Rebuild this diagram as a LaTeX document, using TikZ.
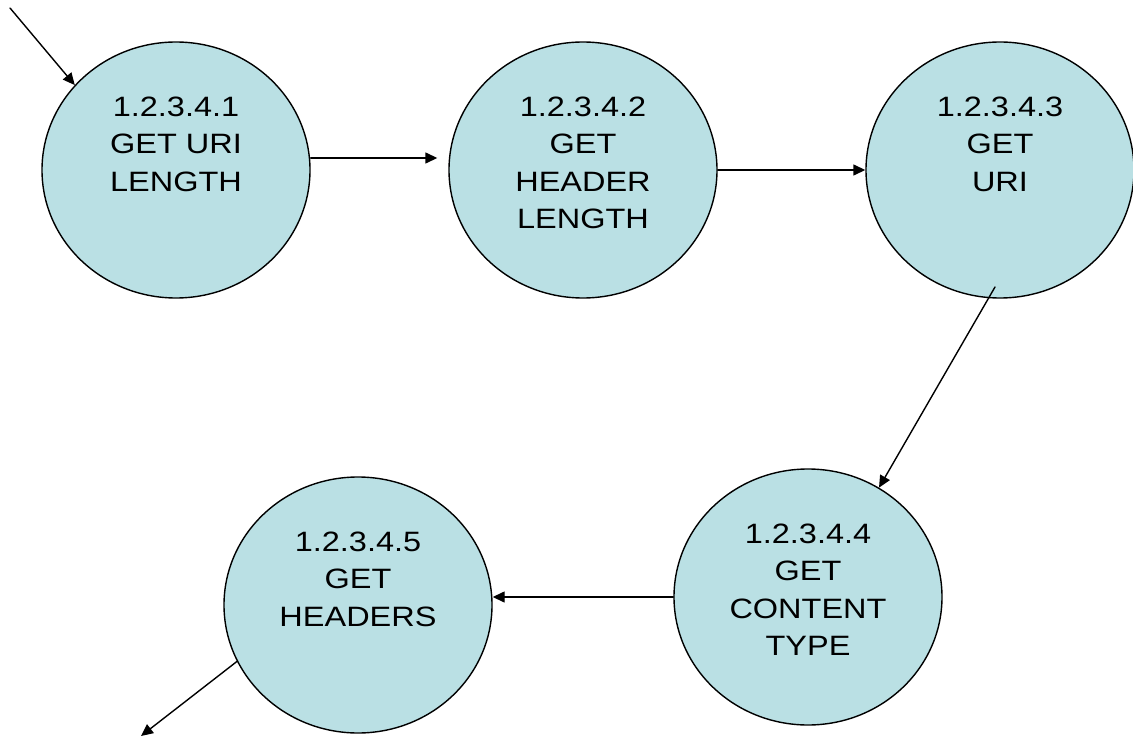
\documentclass[tikz,border=0pt]{standalone}
\usepackage{fontspec}
\setmainfont[FakeStretch=1.16]{Liberation Sans}
\usetikzlibrary{shapes.geometric,arrows.meta}
\definecolor{bubble}{RGB}{186,224,228}
\begin{document}
\begin{tikzpicture}[x=1pt, y=-1pt, line join=round, line cap=round,
	>={Triangle[length=12pt,width=11pt]},
	proc/.style={ellipse, draw, line width=1.4pt, fill=bubble, minimum width=268pt, minimum height=256pt, inner sep=0pt},
	txt/.style={anchor=north, yshift=-55pt, inner sep=0pt, align=center, font=\fontsize{28}{37.5}\selectfont},
	flow/.style={->, line width=1.4pt}]
	\useasboundingbox (0,0) rectangle (1133,738);
	\path
	(10,8) coordinate (src)
	(141,736) coordinate (sink)
	;
	\node[proc, label={[txt]north:{1.2.3.4.1\\GET URI\\LENGTH}}] (c1) at (176,170) {};
	\node[proc, label={[txt]north:{1.2.3.4.2\\GET\\HEADER\\LENGTH}}] (c2) at (583,170) {};
	\node[proc, label={[txt]north:{1.2.3.4.3\\GET\\URI}}] (c3) at (1000,170) {};
	\node[proc, label={[txt]north:{1.2.3.4.4\\GET\\CONTENT\\TYPE}}] (c4) at (808,597) {};
	\node[proc, label={[txt]north:{1.2.3.4.5\\GET\\HEADERS}}] (c5) at (358,605) {};
	% process flow
	\draw[flow] (src) -- (c1.140);
	\draw[flow] ([yshift=12pt]c1.east) -- ([xshift=-11pt,yshift=12pt]c2.west);
	\draw[flow] (c2.east) -- (c3.west);
	\draw[flow] ([xshift=-5pt,yshift=-117pt]c3.center) -- (c4.57);
	\draw[flow] (c4.west) -- (c4.west -| c5.east);
	\draw[flow] (c5.205) -- (sink);
\end{tikzpicture}
\end{document}
